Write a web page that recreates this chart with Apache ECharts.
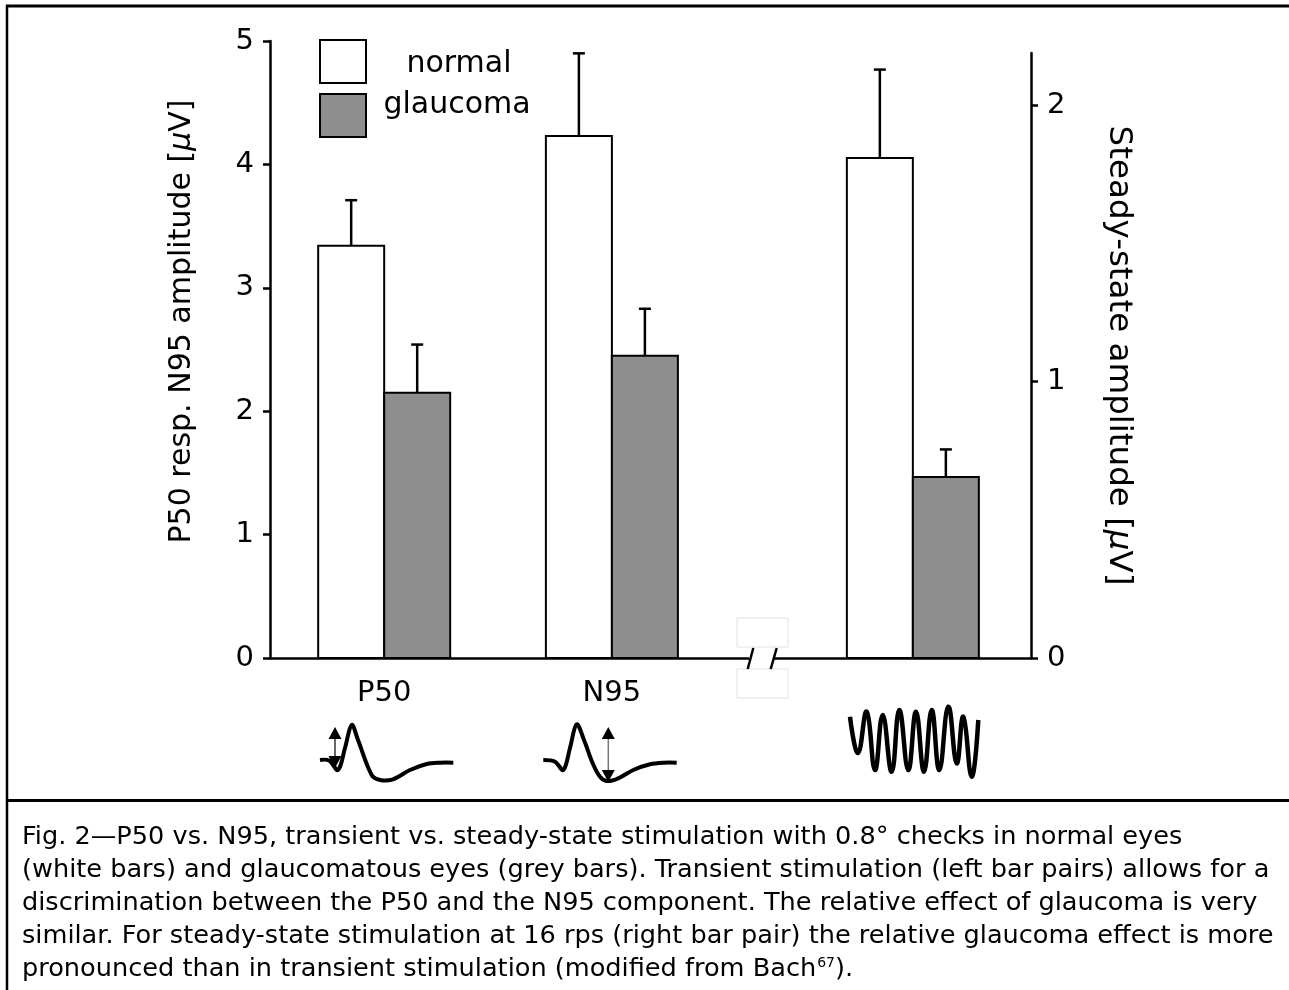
<!DOCTYPE html>
<html><head><meta charset="utf-8">
<script src="https://cdn.jsdelivr.net/npm/echarts@6/dist/echarts.min.js"></script>
<style>html,body{margin:0;padding:0;background:#fff}#chart{width:1289px;height:990px}</style>
</head><body><div id="chart"></div>
<script>
// ---------------- data ----------------
const seriesNames = ['normal', 'glaucoma'];
const transientCategories = ['P50', 'N95'];
const transientNormal = [3.34, 4.23];
const transientNormalSD = [0.37, 0.67];
const transientGlaucoma = [2.15, 2.45];
const transientGlaucomaSD = [0.39, 0.38];
const steadyCategories = ['steady-state'];
const steadyNormal = [1.81];
const steadyNormalSD = [0.32];
const steadyGlaucoma = [0.655];
const steadyGlaucomaSD = [0.10];
const leftTicks = [0, 1, 2, 3, 4, 5];
const rightTicks = [0, 1, 2];
const leftAxisTitle = 'P50 resp. N95 amplitude [{i|\u03bc}V]';
const rightAxisTitle = 'Steady-state amplitude [{i|\u03bc}V]';
const captionLines = [
  'Fig. 2\u2014P50 vs. N95, transient vs. steady-state stimulation with 0.8\u00b0 checks in normal eyes',
  '(white bars) and glaucomatous eyes (grey bars). Transient stimulation (left bar pairs) allows for a',
  'discrimination between the P50 and the N95 component. The relative effect of glaucoma is very',
  'similar. For steady-state stimulation at 16 rps (right bar pair) the relative glaucoma effect is more',
  'pronounced than in transient stimulation (modified from Bach{sup|67}).'
];

// ---------------- layout / style ----------------
const FONT = 'DejaVu Sans';
const L = {
  gridLeft: 270, gridRight: 258, gridTop: 41, gridTop2: 53, gridBottom: 332,
  xMax: 11.53, rightMax: 2.19,
  groupPos: { 'P50': 1.73, 'N95': 5.18, 'steady-state': 9.74 }
};
const COLORS = { normal: '#ffffff', glaucoma: '#8e8e8e' };

function makeRender(offset, fill) {
  return function (params, api) {
    const x = api.value(0), v = api.value(1), sd = api.value(2);
    const tl = api.coord([x + offset, v]);
    const br = api.coord([x + offset + 1, 0]);
    const et = api.coord([x + offset + 0.5, v + sd]);
    const cx = (tl[0] + br[0]) / 2;
    return {
      type: 'group',
      children: [
        { type: 'rect', shape: { x: tl[0], y: tl[1], width: br[0] - tl[0], height: br[1] - tl[1] },
          style: { fill: fill, stroke: '#000', lineWidth: 2 } },
        { type: 'line', shape: { x1: cx, y1: tl[1], x2: cx, y2: et[1] }, style: { stroke: '#000', lineWidth: 2.5 } },
        { type: 'line', shape: { x1: cx - 6, y1: et[1], x2: cx + 6, y2: et[1] }, style: { stroke: '#000', lineWidth: 2.5 } }
      ]
    };
  };
}

function build(cats, vals, sds) {
  return cats.map((c, i) => [L.groupPos[c], vals[i], sds[i]]);
}

const labelStyle = { fontFamily: FONT, fontSize: 29, color: '#000' };
const axisLineStyle = { color: '#000', width: 2.5 };

// waveform illustrations (decoration)
const p50Wave = [[320,760],[329,760.5],[338,770],[345,748],[351.7,725],[358,740],[371.7,775],[380,780],[393,779.3],[410,770],[426.7,764],[440,762.7],[453.3,762.7]];
const n95Wave = [[543.3,760],[555,761.7],[563.3,770],[570,748],[576.7,724.3],[584,740],[593,764],[600,776.7],[606.7,781],[618.3,778.3],[633.3,770],[650,764.3],[663.3,762.7],[676.7,762.7]];
const ssWave = [[850,716.7],[858,753],[866.7,711.7],[875,770],[882.7,715],[891.7,771.7],[899.3,710],[908.3,770],[916,711.7],[924,771.7],[931.7,710],[939.3,770],[948.3,706.7],[956.7,763.3],[963.3,716.7],[971.7,776.7],[978.3,720]];

function arrow(x, yTop, yBot, lineColor) {
  return [
    { type: 'line', shape: { x1: x, y1: yTop + 10, x2: x, y2: yBot - 10 }, style: { stroke: lineColor, lineWidth: 1.5 } },
    { type: 'polygon', shape: { points: [[x, yTop], [x - 6.5, yTop + 12], [x + 6.5, yTop + 12]] }, style: { fill: '#000' } },
    { type: 'polygon', shape: { points: [[x, yBot], [x - 6.5, yBot - 12], [x + 6.5, yBot - 12]] }, style: { fill: '#000' } }
  ];
}

const graphics = [
  // frame
  { type: 'line', shape: { x1: 7, y1: 5, x2: 7, y2: 990 }, style: { stroke: '#000', lineWidth: 2.5 } },
  { type: 'line', shape: { x1: 6, y1: 6, x2: 1289, y2: 6 }, style: { stroke: '#000', lineWidth: 3 } },
  { type: 'line', shape: { x1: 6, y1: 800.5, x2: 1289, y2: 800.5 }, style: { stroke: '#000', lineWidth: 3 } },
  // axis break
  { type: 'rect', shape: { x: 737, y: 618, width: 51, height: 29 }, style: { fill: '#fff', stroke: '#e2e2e2', lineWidth: 1 } },
  { type: 'rect', shape: { x: 737, y: 669, width: 51, height: 29 }, style: { fill: '#fff', stroke: '#e2e2e2', lineWidth: 1 } },
  { type: 'rect', shape: { x: 749, y: 654, width: 25, height: 9 }, style: { fill: '#fff' }, z: 100 },
  { type: 'line', shape: { x1: 747.7, y1: 669, x2: 753.3, y2: 648 }, style: { stroke: '#000', lineWidth: 2.5 }, z: 101 },
  { type: 'line', shape: { x1: 770.7, y1: 669, x2: 776.7, y2: 648 }, style: { stroke: '#000', lineWidth: 2.5 }, z: 101 },
  // waveforms
  { type: 'polyline', shape: { points: p50Wave, smooth: 0.35 }, style: { stroke: '#000', lineWidth: 4, fill: null } },
  { type: 'polyline', shape: { points: n95Wave, smooth: 0.35 }, style: { stroke: '#000', lineWidth: 4, fill: null } },
  { type: 'polyline', shape: { points: ssWave, smooth: 0.45 }, style: { stroke: '#000', lineWidth: 4.5, fill: null } },
  ...arrow(335, 727, 768, '#333'),
  ...arrow(608.3, 727, 782, '#777'),
  // caption
  { type: 'text', x: 22, y: 821,
    style: { text: captionLines.join('\n'), fontFamily: FONT, fontSize: 25.6, fill: '#000', lineHeight: 33,
             verticalAlign: 'top', align: 'left',
             rich: { sup: { fontFamily: FONT, fontSize: 14, verticalAlign: 'top', padding: [3, 0, 0, 1] } } } }
];

const chart = echarts.init(document.getElementById('chart'), null, { renderer: 'canvas' });
chart.setOption({
  animation: false,
  backgroundColor: '#fff',
  textStyle: { fontFamily: FONT },
  grid: [
    { left: L.gridLeft, right: L.gridRight, top: L.gridTop, bottom: L.gridBottom, containLabel: false },
    { left: L.gridLeft, right: L.gridRight, top: L.gridTop2, bottom: L.gridBottom, containLabel: false }
  ],
  legend: {
    orient: 'vertical', left: 319, top: 39, padding: 0,
    itemWidth: 46, itemHeight: 43, itemGap: 6, icon: 'rect', selectedMode: false,
    data: [
      { name: seriesNames[0], itemStyle: { color: COLORS.normal, borderColor: '#000', borderWidth: 2 } },
      { name: seriesNames[1], itemStyle: { color: COLORS.glaucoma, borderColor: '#000', borderWidth: 2 } }
    ],
    formatter: n => (n === seriesNames[0] ? '{n|' : '{g|') + n + '}',
    textStyle: {
      fontFamily: FONT, fontSize: 30, color: '#000',
      rich: {
        n: { fontFamily: FONT, fontSize: 30, color: '#000', width: 176, align: 'center', padding: [6, 0, 0, 0] },
        g: { fontFamily: FONT, fontSize: 30, color: '#000', width: 172, align: 'center', padding: [0, 0, 21, 0] }
      }
    }
  },
  xAxis: [
    { gridIndex: 0, type: 'value', min: 0, max: L.xMax,
      axisLine: { show: true, onZero: false, lineStyle: axisLineStyle },
      axisTick: { show: false }, splitLine: { show: false },
      axisLabel: Object.assign({}, labelStyle, {
        margin: 21,
        customValues: transientCategories.map(c => L.groupPos[c]),
        formatter: v => {
          const c = transientCategories.find(k => Math.abs(L.groupPos[k] - v) < 1e-6);
          return c || '';
        }
      }) },
    { gridIndex: 1, type: 'value', min: 0, max: L.xMax, show: false }
  ],
  yAxis: [
    { gridIndex: 0, type: 'value', position: 'left', min: 0, max: 5, interval: 1,
      axisLine: { show: true, onZero: false, lineStyle: axisLineStyle },
      axisTick: { show: true, length: 7, lineStyle: axisLineStyle, customValues: leftTicks },
      axisLabel: Object.assign({}, labelStyle, { margin: 16, customValues: leftTicks }),
      splitLine: { show: false },
      name: leftAxisTitle, nameLocation: 'middle', nameRotate: 90, nameGap: 73,
      nameTextStyle: { fontFamily: FONT, fontSize: 30, color: '#000', padding: [0, 0, 0, 56],
        rich: { i: { fontFamily: FONT, fontSize: 30, color: '#000', fontStyle: 'italic' } } } },
    { gridIndex: 1, type: 'value', position: 'right', min: 0, max: L.rightMax, interval: 1,
      axisLine: { show: true, onZero: false, lineStyle: axisLineStyle },
      axisTick: { show: true, length: 7, lineStyle: axisLineStyle, customValues: rightTicks },
      axisLabel: Object.assign({}, labelStyle, { margin: 16, customValues: rightTicks }),
      splitLine: { show: false },
      name: rightAxisTitle, nameLocation: 'middle', nameRotate: -90, nameGap: 71,
      nameTextStyle: { fontFamily: FONT, fontSize: 32.5, color: '#000',
        rich: { i: { fontFamily: FONT, fontSize: 32.5, color: '#000', fontStyle: 'italic' } } } }
  ],
  series: [
    { name: seriesNames[0], type: 'custom', xAxisIndex: 0, yAxisIndex: 0,
      itemStyle: { color: COLORS.normal, borderColor: '#000' },
      encode: { x: 0, y: 1 },
      renderItem: makeRender(-1, COLORS.normal),
      data: build(transientCategories, transientNormal, transientNormalSD) },
    { name: seriesNames[1], type: 'custom', xAxisIndex: 0, yAxisIndex: 0,
      itemStyle: { color: COLORS.glaucoma, borderColor: '#000' },
      encode: { x: 0, y: 1 },
      renderItem: makeRender(0, COLORS.glaucoma),
      data: build(transientCategories, transientGlaucoma, transientGlaucomaSD) },
    { name: seriesNames[0], type: 'custom', xAxisIndex: 1, yAxisIndex: 1,
      itemStyle: { color: COLORS.normal, borderColor: '#000' },
      encode: { x: 0, y: 1 },
      renderItem: makeRender(-1, COLORS.normal),
      data: build(steadyCategories, steadyNormal, steadyNormalSD) },
    { name: seriesNames[1], type: 'custom', xAxisIndex: 1, yAxisIndex: 1,
      itemStyle: { color: COLORS.glaucoma, borderColor: '#000' },
      encode: { x: 0, y: 1 },
      renderItem: makeRender(0, COLORS.glaucoma),
      data: build(steadyCategories, steadyGlaucoma, steadyGlaucomaSD) }
  ],
  graphic: graphics
});
</script></body></html>
